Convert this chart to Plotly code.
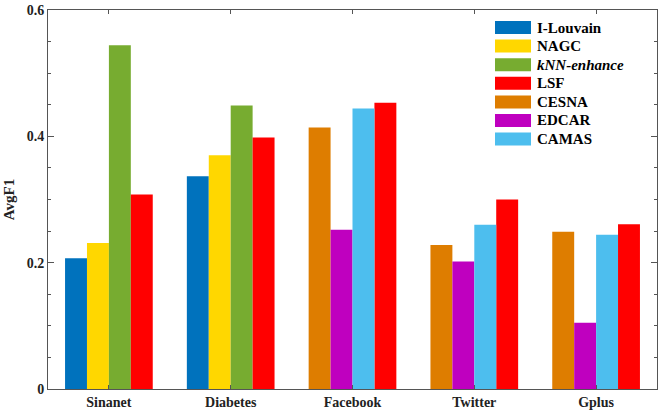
import plotly.graph_objects as go

categories = ["Sinanet", "Diabetes", "Facebook", "Twitter", "Gplus"]
methods = ["I-Louvain", "NAGC", "kNN-enhance", "LSF", "CESNA", "EDCAR", "CAMAS"]

# values per method (only groups where the method appears)
i_louvain_cats = ["Sinanet", "Diabetes"]
i_louvain = [0.207, 0.337]
nagc_cats = ["Sinanet", "Diabetes"]
nagc = [0.231, 0.370]
knn_cats = ["Sinanet", "Diabetes"]
knn_enhance = [0.544, 0.449]
lsf_cats = ["Sinanet", "Diabetes", "Facebook", "Twitter", "Gplus"]
lsf = [0.308, 0.398, 0.453, 0.300, 0.261]
cesna_cats = ["Facebook", "Twitter", "Gplus"]
cesna = [0.414, 0.228, 0.249]
edcar_cats = ["Facebook", "Twitter", "Gplus"]
edcar = [0.252, 0.202, 0.105]
camas_cats = ["Facebook", "Twitter", "Gplus"]
camas = [0.444, 0.260, 0.244]

ytick_vals = [0, 0.2, 0.4, 0.6]
ytick_text = ["0", "0.2", "0.4", "0.6"]

colors = {
    "I-Louvain": "#0072BD",
    "NAGC": "#FFD700",
    "kNN-enhance": "#77AC30",
    "LSF": "#FF0000",
    "CESNA": "#DE7D00",
    "EDCAR": "#BF00BF",
    "CAMAS": "#4DBEEE",
}
slots = {"I-Louvain": 0, "NAGC": 1, "kNN-enhance": 2, "LSF": 3,
         "CESNA": 0, "EDCAR": 1, "CAMAS": 2}
series = {
    "I-Louvain": (i_louvain_cats, i_louvain),
    "NAGC": (nagc_cats, nagc),
    "kNN-enhance": (knn_cats, knn_enhance),
    "LSF": (lsf_cats, lsf),
    "CESNA": (cesna_cats, cesna),
    "EDCAR": (edcar_cats, edcar),
    "CAMAS": (camas_cats, camas),
}

BAR_W = 0.18
FONT = "Liberation Serif"

fig = go.Figure()
for m in methods:
    cats, vals = series[m]
    fig.add_trace(go.Bar(
        x=cats, y=vals, name=m,
        width=BAR_W, offset=-2 * BAR_W + slots[m] * BAR_W,
        marker=dict(color=colors[m], line=dict(width=0)),
        showlegend=False,
    ))

W, H = 658, 414
ML, MR, MT, MB = 48, 1, 10, 25
pw, ph = W - ML - MR, H - MT - MB

def px_to_paper_x(px):
    return (px - ML) / pw

def px_to_paper_y(py):
    return (H - MB - py) / ph

shapes = []
annotations = []
row0, row_step = 27.5, 18.6
for i, m in enumerate(methods):
    yc = row0 + i * row_step
    shapes.append(dict(type="rect", xref="paper", yref="paper",
                       x0=px_to_paper_x(495), x1=px_to_paper_x(531),
                       y0=px_to_paper_y(yc + 6.5), y1=px_to_paper_y(yc - 6.5),
                       fillcolor=colors[m], line=dict(width=0)))
    label = "<i>" + m + "</i>" if m == "kNN-enhance" else m
    annotations.append(dict(xref="paper", yref="paper",
                            x=px_to_paper_x(535), y=px_to_paper_y(yc),
                            xanchor="left", yanchor="middle", showarrow=False,
                            text=label,
                            font=dict(family=FONT, size=15, color="black", weight=700)))

fig.update_layout(
    width=W, height=H,
    margin=dict(l=ML, r=MR, t=MT, b=MB),
    paper_bgcolor="white", plot_bgcolor="white",
    barmode="overlay",
    shapes=shapes, annotations=annotations,
    font=dict(family=FONT, size=14, color="#222"),
)
fig.update_xaxes(
    categoryorder="array", categoryarray=categories,
    range=[-0.5, 4.5],
    showline=True, linecolor="#555", linewidth=1, mirror="ticks",
    ticks="inside", ticklen=4, tickcolor="#555",
    tickfont=dict(family=FONT, size=14, color="#222", weight=700),
    showgrid=False, zeroline=False,
)
fig.update_yaxes(
    range=[0, 0.6],
    tickvals=ytick_vals, ticktext=ytick_text,
    showline=True, linecolor="#555", linewidth=1, mirror="ticks",
    ticks="inside", ticklen=6, tickcolor="#555",
    minor=dict(dtick=0.05, ticks="inside", ticklen=3, tickcolor="#555", showgrid=False),
    tickfont=dict(family=FONT, size=14, color="#222", weight=700),
    showgrid=False, zeroline=False,
    title=dict(text="AvgF1", standoff=8,
               font=dict(family=FONT, size=15, color="#222", weight=700)),
)

fig.write_html("out.html")
